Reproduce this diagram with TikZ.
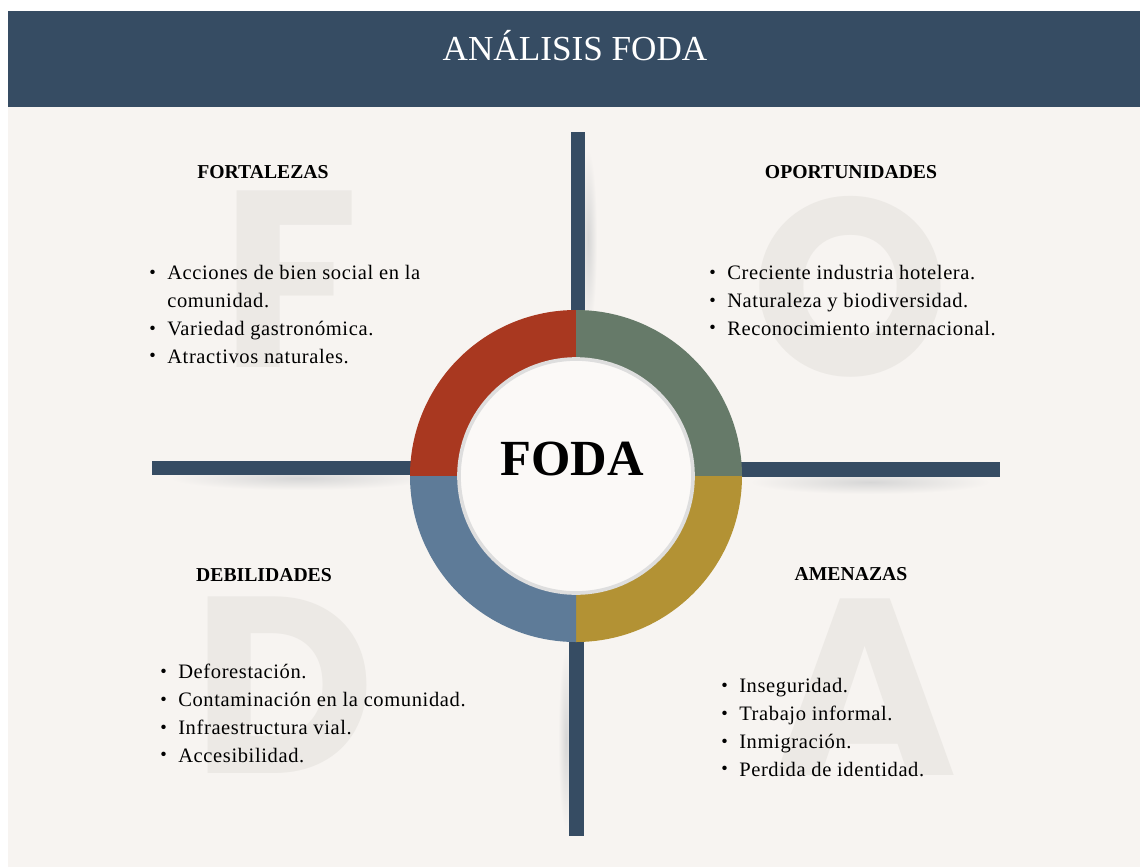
\documentclass[tikz,border=0pt]{standalone}
\usepackage{fontspec}
\usepackage{graphicx}
\setmainfont{Liberation Serif}
\newfontfamily\listfont[LetterSpace=3]{Liberation Serif}
\newfontfamily\letterfont{Poppins}
\usetikzlibrary{calc}
\definecolor{navy}{RGB}{54, 76, 99}
\definecolor{paper}{RGB}{247, 244, 241}
\definecolor{ghost}{RGB}{236, 233, 229}
\definecolor{brick}{RGB}{169, 56, 32}
\definecolor{sage}{RGB}{102, 122, 105}
\definecolor{mustard}{RGB}{179, 146, 52}
\definecolor{steel}{RGB}{94, 123, 152}
\newcommand{\bul}{\makebox[12.8pt][l]{\raisebox{.06em}{\scalebox{.9}{\textbullet}}}}
\newcommand{\cont}{\hspace*{12.8pt}}
\tikzset{
  banner/.style={font=\fontsize{25}{30}\selectfont, text=white, anchor=base},
  heading/.style={font=\bfseries\fontsize{14}{17}\selectfont, anchor=center},
  itemlist/.style={font=\listfont\fontsize{14.6}{19.7}\selectfont, align=left, anchor=base west, inner sep=0pt},
  ghostletter/.style={font=\letterfont\bfseries\fontsize{179}{179}\selectfont, text=ghost, anchor=base, inner sep=0pt},
  core/.style={font=\bfseries\fontsize{36}{40}\selectfont, anchor=base},
  shadow/.style={inner color=black!16, outer color=paper},
}

\begin{document}
\begin{tikzpicture}[x=0.25mm, y=-0.25mm]
            \fill[white]                          (0,0) rectangle (1140,867);
            \useasboundingbox                     (0,0) rectangle (1140,867);
            \fill[paper]                          (8,107) rectangle (1140,867);
            % big letters behind the lists
            \node[ghostletter] (bigF) at (290,367) {F};
            \node[ghostletter] (bigO) at (850,375) {O};
            \node[ghostletter] (bigD) at (284,773) {D};
            \node[ghostletter] (bigA) at (865,775) {A};
            % soft shadows of the bars
            \shade[shadow] (300,478) ellipse (130 and 12);
            \shade[shadow] (870,482) ellipse (120 and 12);
            \shade[shadow] (588,240) ellipse (9 and 90);
            \shade[shadow] (566,740) ellipse (8 and 90);
            \fill[navy]                           (8,11) rectangle (1140,107);
            \node[banner] (title) at (575,60) {ANÁLISIS FODA};
            \fill[navy]                           (571,132) rectangle (585,312);
            \fill[navy]                           (569,640) rectangle (584,836);
            \fill[navy]                           (152,461) rectangle (412,475);
            \fill[navy]                           (740,462) rectangle (1000,477);
            % ring
            \coordinate (hub) at (576,476);
            \foreach \ang/\col in {90/brick, 0/sage, 270/mustard, 180/steel}
                \fill[\col] (hub) -- ++(-\ang:166) arc[start angle=-\ang, end angle=-\ang-90, radius=166] -- cycle;
            \fill[white!45!paper]                 (hub) circle (118);
            \draw[black!13, line width=2.6pt]     (hub) circle (117);
            \node[core] (foda) at (572,475) {FODA};
            % quadrants (lists sit on the baseline of their last line)
            \node[heading] (fortalezas)    at (263,172) {FORTALEZAS};
            \node[heading] (oportunidades) at (851,172) {OPORTUNIDADES};
            \node[heading] (debilidades)   at (264,575) {DEBILIDADES};
            \node[heading] (amenazas)      at (851,574) {AMENAZAS};
            \node[itemlist] (listF) at (149,363) {\bul Acciones de bien social en la\\ \cont comunidad.\\ \bul Variedad gastronómica.\\ \bul Atractivos naturales.};
            \node[itemlist] (listO) at (709,335) {\bul Creciente industria hotelera.\\ \bul Naturaleza y biodiversidad.\\ \bul Reconocimiento internacional.};
            \node[itemlist] (listD) at (160,762) {\bul Deforestación.\\ \bul Contaminación en la comunidad.\\ \bul Infraestructura vial.\\ \bul Accesibilidad.};
            \node[itemlist] (listA) at (721,776) {\bul Inseguridad.\\ \bul Trabajo informal.\\ \bul Inmigración.\\ \bul Perdida de identidad.};
        \end{tikzpicture}
\end{document}
